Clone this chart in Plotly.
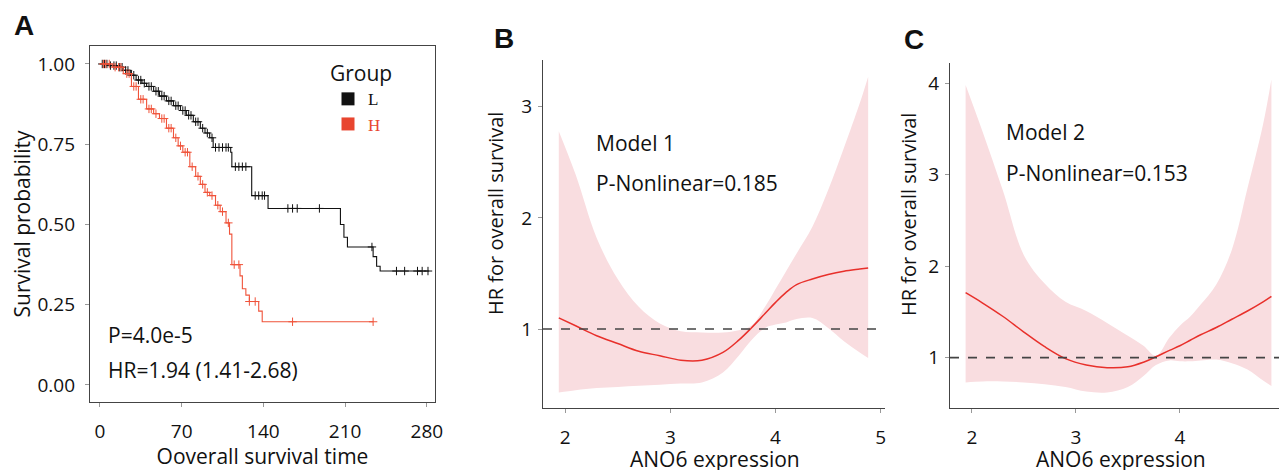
import numpy as np
import plotly.graph_objects as go

# page body has an 8px margin, so the figure fills the rest of the 1287x470 window
OFF = 8
W, H = 1287 - OFF, 470 - OFF

# ── Panel A: Kaplan-Meier, ANO6 low (L) vs high (H) ─────────────────────────
L_time = [0, 8, 15, 20, 26, 31, 36, 40, 46, 51, 57, 63, 69, 74, 80, 86, 90, 94, 97,
          112, 113, 130, 144, 206, 209, 212, 234, 237, 240, 282]
L_surv = [1.0, 0.995, 0.99, 0.98, 0.965, 0.95, 0.94, 0.93, 0.915, 0.90, 0.885, 0.87,
          0.855, 0.84, 0.82, 0.80, 0.785, 0.77, 0.74, 0.725, 0.68, 0.59, 0.55, 0.50,
          0.46, 0.43, 0.40, 0.37, 0.355, 0.355]
L_cens = [2, 4, 6, 9, 12, 14, 17, 19, 22, 24, 27, 29, 33, 35, 38, 42, 44, 48, 50, 53,
          55, 59, 61, 65, 67, 71, 73, 76, 78, 82, 84, 88, 92, 96, 99, 102, 105, 108, 110,
          116, 119, 122, 125, 133, 136, 139, 141, 161, 165, 169, 188, 233, 254, 261,
          272, 276, 281]

H_time = [0, 11, 20, 27, 33, 40, 46, 51, 57, 63, 67, 71, 77, 82, 86, 90, 94, 99, 103,
          108, 111, 113, 120, 122, 125, 128, 136, 139, 234]
H_surv = [1.0, 0.99, 0.97, 0.93, 0.89, 0.86, 0.845, 0.83, 0.80, 0.77, 0.745, 0.725,
          0.68, 0.65, 0.625, 0.60, 0.59, 0.56, 0.54, 0.505, 0.47, 0.375, 0.34, 0.30,
          0.28, 0.26, 0.23, 0.197, 0.197]
H_cens = [3, 5, 8, 13, 16, 18, 23, 25, 29, 31, 35, 37, 42, 44, 48, 53, 55, 59, 61, 65,
          69, 73, 75, 79, 84, 88, 92, 96, 101, 105, 110, 115, 119, 128, 133, 165, 234]

# ── Panels B & C: restricted cubic spline HR vs ANO6 expression ─────────────
ano6 = [1.94, 2.1, 2.3, 2.5, 2.7, 2.9, 3.1, 3.3, 3.5, 3.65, 3.77, 3.9, 4.0, 4.1, 4.2,
        4.35, 4.5, 4.65, 4.8, 4.88]
m1_hr = [1.10, 1.03, 0.94, 0.87, 0.80, 0.76, 0.72, 0.72, 0.79, 0.90, 1.01, 1.14, 1.24,
         1.33, 1.40, 1.45, 1.49, 1.52, 1.54, 1.55]
m1_up = [2.78, 2.39, 1.82, 1.45, 1.20, 1.05, 0.98, 0.97, 0.97, 0.99, 1.03, 1.20, 1.36,
         1.52, 1.68, 1.92, 2.25, 2.63, 3.03, 3.27]
m1_lo = [0.43, 0.45, 0.47, 0.48, 0.49, 0.50, 0.51, 0.52, 0.61, 0.76, 0.90, 1.01, 1.04,
         1.06, 1.09, 1.10, 1.01, 0.89, 0.79, 0.74]
m2_hr = [1.71, 1.60, 1.45, 1.28, 1.12, 0.99, 0.92, 0.89, 0.90, 0.95, 1.01, 1.08, 1.13,
         1.19, 1.25, 1.33, 1.42, 1.51, 1.61, 1.67]
m2_up = [3.98, 3.48, 2.82, 2.12, 1.81, 1.61, 1.51, 1.38, 1.24, 1.13, 1.02, 1.22, 1.35,
         1.45, 1.58, 1.80, 2.18, 2.85, 3.55, 4.04]
m2_lo = [0.73, 0.74, 0.74, 0.73, 0.71, 0.68, 0.63, 0.62, 0.68, 0.80, 0.92, 0.97, 0.96,
         0.96, 0.97, 0.98, 0.94, 0.87, 0.75, 0.69]

BLACK = "#111111"
RED_KM = "#F0533A"
RED = "#E8302B"
BAND = "#F9DDE0"
AXIS = "#444444"
FONT = "Open Sans"


def px_x(p):
    return (p - OFF) / W


def px_y(p):
    return 1 - (p - OFF) / H


def surv_at(times, surv, t):
    idx = np.searchsorted(times, t, side="right") - 1
    return [surv[i] for i in idx]


fig = go.Figure()

# A: curves
for times, surv, cens, col in [(L_time, L_surv, L_cens, BLACK),
                               (H_time, H_surv, H_cens, RED_KM)]:
    fig.add_trace(go.Scatter(x=times, y=surv, mode="lines", line_shape="hv",
                             line=dict(color=col, width=1.1), showlegend=False,
                             xaxis="x", yaxis="y"))
    fig.add_trace(go.Scatter(x=cens, y=surv_at(times, surv, cens), mode="markers",
                             marker=dict(symbol="cross-thin", size=6,
                                         line=dict(color=col, width=1)),
                             showlegend=False, xaxis="x", yaxis="y"))

# A: legend entries
fig.add_trace(go.Scatter(x=[None], y=[None], mode="markers", name="L",
                         marker=dict(symbol="square", size=13, color=BLACK),
                         xaxis="x", yaxis="y"))
fig.add_trace(go.Scatter(x=[None], y=[None], mode="markers",
                         name="<span style='color:#E8452F'>H</span>",
                         marker=dict(symbol="square", size=13, color="#E8452F"),
                         xaxis="x", yaxis="y"))

# B & C: bands and HR curves
for xa, ya, hr, up, lo in [("x2", "y2", m1_hr, m1_up, m1_lo),
                           ("x3", "y3", m2_hr, m2_up, m2_lo)]:
    fig.add_trace(go.Scatter(x=ano6, y=lo, mode="lines", line=dict(width=0, shape="spline"),
                             showlegend=False, xaxis=xa, yaxis=ya, hoverinfo="skip"))
    fig.add_trace(go.Scatter(x=ano6, y=up, mode="lines", line=dict(width=0, shape="spline"),
                             fill="tonexty", fillcolor=BAND, showlegend=False,
                             xaxis=xa, yaxis=ya, hoverinfo="skip"))
    fig.add_trace(go.Scatter(x=ano6, y=hr, mode="lines",
                             line=dict(color=RED, width=1.5, shape="spline"),
                             showlegend=False, xaxis=xa, yaxis=ya))
    fig.add_shape(type="line", xref=f"{xa} domain", yref=ya, x0=0, x1=1, y0=1, y1=1,
                  line=dict(color=AXIS, width=1.6, dash="dash"))

tickfont = dict(family=FONT, size=19, color="#111")
titlefont = dict(family=FONT, size=21, color="#111")
common = dict(showline=True, linecolor=AXIS, linewidth=1.3, ticks="outside",
              ticklen=4, tickcolor="#999", showgrid=False, zeroline=False,
              automargin=False, tickfont=tickfont)

fig.update_layout(
    width=W, height=H,
    margin=dict(l=0, r=0, t=0, b=0),
    paper_bgcolor="white", plot_bgcolor="white",
    font=dict(family=FONT, color="#111"),
    xaxis=dict(domain=[px_x(90), px_x(435)], range=[-8.5, 287], tickvals=[0, 70, 140, 210, 280],
               mirror=True, anchor="y", ticklabelstandoff=8,
               title=dict(text="Ooverall survival time", font=titlefont, standoff=7), **common),
    yaxis=dict(domain=[px_y(402), px_y(46)], range=[-0.053, 1.056],
               tickvals=[0, 0.25, 0.5, 0.75, 1.0], tickformat=".2f", mirror=True,
               anchor="x", ticklabelstandoff=6,
               title=dict(text="Survival probability", font=titlefont, standoff=4), **common),
    xaxis2=dict(domain=[px_x(543), px_x(885)], range=[1.79, 5.04], tickvals=[2, 3, 4, 5],
                anchor="y2", ticklabelstandoff=8, **common),
    yaxis2=dict(domain=[px_y(408), px_y(60)], range=[0.29, 3.42], tickvals=[1, 2, 3],
                anchor="x2", ticklabelstandoff=2, **common),
    xaxis3=dict(domain=[px_x(950), 1.0], range=[1.79, 5.03], tickvals=[2, 3, 4, 5],
                anchor="y3", ticklabelstandoff=8, ticklabeloverflow="allow", **common),
    yaxis3=dict(domain=[px_y(408), px_y(63)], range=[0.45, 4.22], tickvals=[1, 2, 3, 4],
                anchor="x3", ticklabelstandoff=2, **common),
    legend=dict(x=px_x(328), y=px_y(54), xanchor="left", yanchor="top",
                bgcolor="rgba(0,0,0,0)", itemwidth=30, tracegroupgap=0,
                traceorder="normal",
                title=dict(text="Group", font=dict(family=FONT, size=21, color="#111")),
                font=dict(family="Liberation Serif", size=17, color="#111")),
    showlegend=True,
)

ann = [
    ("<b>A</b>", 12, 25, 28, "Liberation Sans"),
    ("<b>B</b>", 492, 38, 28, "Liberation Sans"),
    ("<b>C</b>", 902, 39, 28, "Liberation Sans"),
    ("P=4.0e-5", 106, 335, 21, FONT),
    ("HR=1.94 (1.41-2.68)", 106, 370, 21, FONT),
    ("Model 1", 594, 143, 21, FONT),
    ("P-Nonlinear=0.185", 594, 183, 21, FONT),
    ("Model 2", 1004, 132, 21, FONT),
    ("P-Nonlinear=0.153", 1004, 173, 21, FONT),
]
for text, x, y, size, fam in ann:
    fig.add_annotation(text=text, x=px_x(x), y=px_y(y), xref="paper", yref="paper",
                       xanchor="left", yanchor="middle", showarrow=False,
                       font=dict(family=fam, size=size, color="#111"))

# B & C axis titles
for x in (495, 908):
    fig.add_annotation(text="HR for overall survival", x=px_x(x), y=px_y(214),
                       xref="paper", yref="paper", textangle=-90, showarrow=False,
                       xanchor="center", yanchor="middle",
                       font=dict(family=FONT, size=20, color="#111"))
for x in (715, 1121):
    fig.add_annotation(text="ANO6 expression", x=px_x(x), y=px_y(459),
                       xref="paper", yref="paper", showarrow=False,
                       xanchor="center", yanchor="middle", font=titlefont)

fig.write_html("out.html")
